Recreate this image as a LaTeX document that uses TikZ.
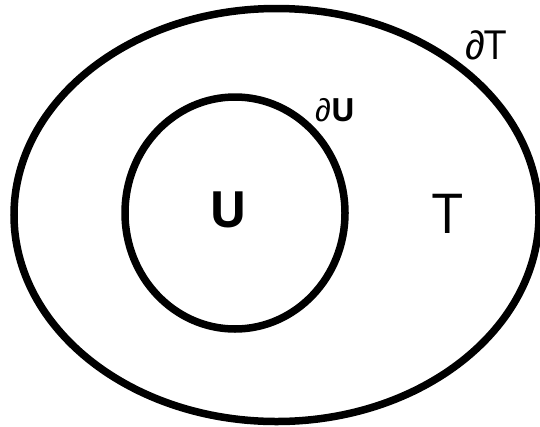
\documentclass[tikz,border=0pt]{standalone}
\usepackage{fontspec}
\setmainfont{Open Sans}
\newfontfamily\partfont{Liberation Sans}
\begin{document}
\begin{tikzpicture}[x=1pt,y=-1pt,
  rim/.style={draw=black,line width=7.5pt},
  lbl/.style={inner sep=0pt,anchor=center}]
\useasboundingbox (0,0) rectangle (540,426);
\draw[rim] (276.5,215) ellipse [x radius=262.5, y radius=206.5];
\draw[rim] (235,213) ellipse [x radius=110, y radius=116];
\node[lbl,font=\fontsize{40}{44}\selectfont] (dT) at (486,45) {{\partfont ∂}T};
\node[lbl,font=\fontsize{32}{34}\selectfont] (dU) at (335,110) {{\partfont ∂}\textbf{U}};
\node[lbl,font=\fontsize{50}{52}\selectfont\bfseries] (U) at (228,210) {U};
\node[lbl,font=\fontsize{55}{57}\selectfont] (T) at (448,214) {T};
\end{tikzpicture}
\end{document}
